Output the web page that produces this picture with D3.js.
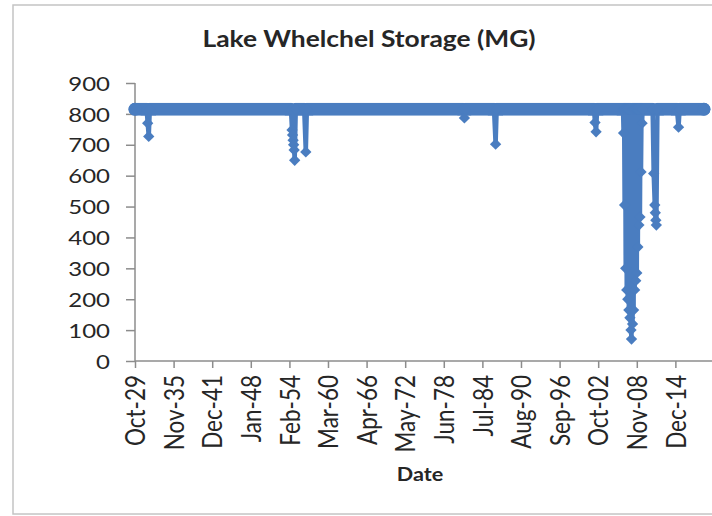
<!DOCTYPE html>
<html>
<head>
<meta charset="utf-8">
<script src="https://cdn.jsdelivr.net/npm/d3@7"></script>
<style>
  body { margin: 0; background: #fff; }
  text { font-family: Lato, "Open Sans", sans-serif; fill: #262626; }
</style>
</head>
<body>
<svg id="canvas" width="712" height="516"></svg>
<script>
// storage readings (MG)
var dates = [
  "1929-10-01", "1931-08-01", "1931-10-01", "1931-12-01", "1932-02-01",
  "1954-05-01", "1954-07-01", "1954-08-01", "1954-09-01", "1954-10-01", "1954-11-01", "1954-12-01", "1955-02-01",
  "1956-06-01", "1956-09-01", "1956-11-01",
  "1981-06-01", "1981-09-01", "1981-11-01",
  "1986-05-01", "1986-08-01", "1986-10-01",
  "2002-02-01", "2002-04-01", "2002-06-01", "2002-08-01",
  "2006-09-01", "2006-10-01", "2006-11-01", "2006-12-01",
  "2007-01-01", "2007-02-01", "2007-03-01", "2007-04-01", "2007-05-01", "2007-06-01",
  "2007-07-01", "2007-08-01", "2007-09-01", "2007-10-01", "2007-11-01", "2007-12-01",
  "2008-01-01", "2008-02-01", "2008-03-01", "2008-04-01", "2008-05-01", "2008-06-01",
  "2008-07-01", "2008-08-01", "2008-09-01", "2008-10-01", "2008-11-01", "2008-12-01",
  "2009-01-01", "2009-02-01", "2009-03-01", "2009-04-01", "2009-05-01", "2009-06-01",
  "2009-07-01", "2009-08-01", "2009-09-01", "2009-10-01",
  "2011-05-01", "2011-07-01", "2011-09-01", "2011-10-01", "2011-11-01", "2011-12-01", "2012-02-01",
  "2015-03-01", "2015-06-01", "2015-08-01",
  "2019-06-01"
];
var storage = [
  815, 815, 770, 727, 815,
  815, 748, 732, 715, 700, 683, 650, 815,
  815, 677, 815,
  815, 787, 815,
  815, 702, 815,
  815, 772, 742, 815,
  815, 738, 815, 505,
  815, 300, 815, 230, 815, 200,
  815, 165, 815, 140, 815, 100,
  71, 815, 120, 815, 165, 815,
  230, 815, 260, 815, 285, 815,
  369, 815, 440, 815, 466, 815,
  612, 815, 770, 815,
  815, 607, 505, 480, 456, 440, 815,
  815, 757, 815,
  815
];
var fullPool = 815;

var yTicks = [0, 100, 200, 300, 400, 500, 600, 700, 800, 900];
var xTickLabels = ["Oct-29", "Nov-35", "Dec-41", "Jan-48", "Feb-54", "Mar-60", "Apr-66", "May-72",
  "Jun-78", "Jul-84", "Aug-90", "Sep-96", "Oct-02", "Nov-08", "Dec-14"];

var parseDate = d3.timeParse("%Y-%m-%d");
var parseTick = d3.timeParse("%b-%y");
// %y puts 29 -> 2029, pull anything past 2020 back a century
function tickDate(s) {
  var d = parseTick(s);
  if (d.getFullYear() > 2020) d.setFullYear(d.getFullYear() - 100);
  return d;
}

var data = dates.map(function(d, i) { return { date: parseDate(d), value: storage[i] }; });

var svg = d3.select("#canvas");
var blue = "#4a7dc0";
var stretch = 1.2; // the source picture is a bit wide, text looks pulled sideways

// chart frame (right side runs off the picture)
svg.append("rect")
  .attr("x", 13).attr("y", 5)
  .attr("width", 740).attr("height", 509)
  .attr("fill", "none")
  .attr("stroke", "#c4c4c4")
  .attr("stroke-width", 1.5);

var x = d3.scaleTime()
  .domain([tickDate("Oct-29"), parseDate("2021-01-01")])
  .range([135, 714]);
var y = d3.scaleLinear()
  .domain([0, 900])
  .range([361, 83]);

// y axis
var yAxis = svg.append("g")
  .attr("transform", "translate(" + x.range()[0] + ",0)")
  .call(d3.axisLeft(y).tickValues(yTicks).tickSize(9));
yAxis.selectAll("text")
  .style("font-size", "20px")
  .attr("x", 0)
  .attr("dy", "0.36em")
  .attr("transform", "translate(-25,0) scale(" + stretch + ",1)");

// x axis
var xAxis = svg.append("g")
  .attr("transform", "translate(0," + y(0) + ")")
  .call(d3.axisBottom(x).tickValues(xTickLabels.map(tickDate)).tickSize(7)
    .tickFormat(function(d, i) { return xTickLabels[i]; }));
xAxis.selectAll("text")
  .style("font-size", "22.5px")
  .attr("text-anchor", "end")
  .attr("x", 0)
  .attr("y", 0)
  .attr("dy", "0.36em")
  .attr("transform", "translate(0,14) scale(" + stretch + ",1) rotate(-90)");

svg.selectAll(".domain, .tick line")
  .attr("stroke", "#8c8c8c")
  .attr("stroke-width", 1.5);
yAxis.select(".domain").attr("d", "M0," + y(900) + "V" + y(0));
xAxis.select(".domain").attr("d", "M" + x.range()[0] + ",0H" + x.range()[1]);

var line = d3.line()
  .x(function(d) { return x(d.date); })
  .y(function(d) { return y(d.value); });

// the dense daily markers make a fat band at full pool, fake it with a thick copy of the line
var bandHalf = 6.5;
svg.append("clipPath").attr("id", "band")
  .append("rect")
  .attr("x", 0).attr("width", 712)
  .attr("y", y(fullPool) - bandHalf)
  .attr("height", bandHalf * 2);

svg.append("path")
  .datum(data)
  .attr("clip-path", "url(#band)")
  .attr("d", line)
  .attr("fill", "none")
  .attr("stroke", blue)
  .attr("stroke-width", bandHalf * 2)
  .attr("stroke-linecap", "round")
  .attr("stroke-linejoin", "round");

svg.append("path")
  .datum(data)
  .attr("d", line)
  .attr("fill", "none")
  .attr("stroke", blue)
  .attr("stroke-width", 4.5)
  .attr("stroke-linejoin", "round");

// round ends of the band
svg.selectAll(".cap")
  .data([data[0], data[data.length - 1]])
  .enter().append("circle")
  .attr("class", "cap")
  .attr("cx", function(d) { return x(d.date); })
  .attr("cy", function(d) { return y(d.value); })
  .attr("r", bandHalf)
  .attr("fill", blue);

// diamond markers
var diamond = d3.symbol().type(d3.symbolSquare).size(64);
svg.selectAll(".pt")
  .data(data)
  .enter().append("path")
  .attr("class", "pt")
  .attr("d", diamond)
  .attr("transform", function(d) { return "translate(" + x(d.date) + "," + y(d.value) + ") rotate(45)"; })
  .attr("fill", blue);

svg.append("text")
  .attr("transform", "translate(369,47) scale(" + stretch + ",1)")
  .attr("text-anchor", "middle")
  .style("font-size", "22px")
  .style("font-weight", "bold")
  .text("Lake Whelchel Storage (MG)");

svg.append("text")
  .attr("transform", "translate(420,481) scale(" + stretch + ",1)")
  .attr("text-anchor", "middle")
  .style("font-size", "18px")
  .style("font-weight", "bold")
  .text("Date");
</script>
</body>
</html>
